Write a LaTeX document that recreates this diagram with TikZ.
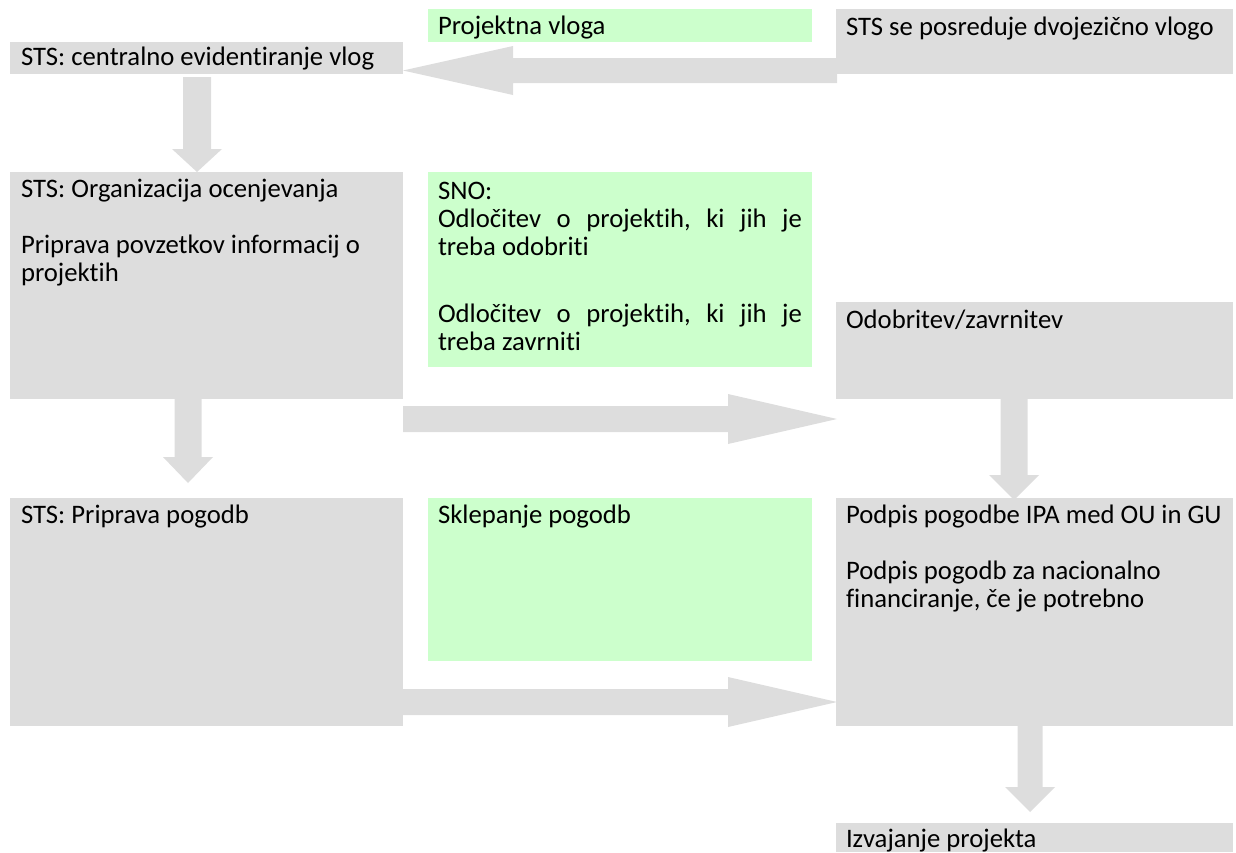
\documentclass[tikz,border=0pt]{standalone}
\usepackage{fontspec}
\setmainfont{Carlito}[Ligatures={NoCommon}]
\definecolor{boxgray}{HTML}{DDDDDD}
\definecolor{boxgreen}{HTML}{CCFFCC}
\newcommand{\lbfont}{\fontsize{26.7}{28}\selectfont}
\newcommand{\harr}[6]{%
  \fill[arrowfill] (#1,#4-#5) -- (#2,#4-#5) -- (#2,#4-#6) -- (#3,#4) -- (#2,#4+#6) -- (#2,#4+#5) -- (#1,#4+#5) -- cycle;}
\newcommand{\varr}[6]{%
  \fill[arrowfill] (#4-#5,#1) -- (#4-#5,#2) -- (#4-#6,#2) -- (#4,#3) -- (#4+#6,#2) -- (#4+#5,#2) -- (#4+#5,#1) -- cycle;}
\tikzset{
  graybox/.style={fill=boxgray, draw=none, anchor=north west, inner sep=0pt, outer sep=0pt},
  greenbox/.style={fill=boxgreen, draw=none, anchor=north west, inner sep=0pt, outer sep=0pt},
  lbl/.style={anchor=base west, inner sep=0pt, outer sep=0pt, font=\lbfont, text=black},
  arrowfill/.style={fill=boxgray, draw=none}
}
\begin{document}
\begin{tikzpicture}[x=1pt, y=-1pt]
\useasboundingbox (0,0) rectangle (1236,852);
% boxes
\node[greenbox, minimum width=384pt, minimum height=33pt] (proj) at (428,9) {};
\node[graybox, minimum width=397pt, minimum height=65pt] (sts) at (836,9) {};
\node[graybox, minimum width=393pt, minimum height=32pt] (cev) at (10,42) {};
\node[graybox, minimum width=393pt, minimum height=227pt] (org) at (10,172) {};
\node[greenbox, minimum width=384pt, minimum height=195pt] (sno) at (428,172) {};
\node[graybox, minimum width=397pt, minimum height=97pt] (odo) at (836,302) {};
\node[graybox, minimum width=393pt, minimum height=228pt] (pri) at (10,498) {};
\node[greenbox, minimum width=384pt, minimum height=163pt] (skl) at (428,498) {};
\node[graybox, minimum width=397pt, minimum height=228pt] (pod) at (836,498) {};
\node[graybox, minimum width=397pt, minimum height=29pt] (izv) at (836,823) {};
% block arrows
\harr{837}{513}{403}{70.5}{12.5}{24.5}
\harr{403}{728}{837}{419}{13}{25}
\harr{403}{728}{837}{702}{13}{25}
\varr{77}{149}{172}{197}{14}{25}
\varr{399}{457}{483}{188}{13.5}{25}
\varr{399}{475}{500}{1014}{13.5}{25}
\varr{726}{787}{812}{1030}{12.5}{25}
% texts
\node[lbl] (tproj) at (438,34) {Projektna vloga};
\node[lbl] (tsts) at (846,35) {STS se posreduje dvojezično vlogo};
\node[lbl] (tcev) at (21,65) {STS: centralno evidentiranje vlog};
\node[lbl] (torg1) at (21,197) {STS: Organizacija ocenjevanja};
\node[lbl] (torg2) at (21,253) {Priprava povzetkov informacij o};
\node[lbl] (torg3) at (21,281) {projektih};
\node[lbl] (tsno1) at (438,199) {SNO:};
\node[lbl] (tsno2) at (438,227) {\hbox to 364pt{Odločitev\hfill o\hfill projektih,\hfill ki\hfill jih\hfill je}};
\node[lbl] (tsno3) at (438,255) {treba odobriti};
\node[lbl] (tsno4) at (438,322) {\hbox to 364pt{Odločitev\hfill o\hfill projektih,\hfill ki\hfill jih\hfill je}};
\node[lbl] (tsno5) at (438,350) {treba zavrniti};
\node[lbl] (todo) at (846,328) {Odobritev/zavrnitev};
\node[lbl] (tpri) at (21,523) {STS: Priprava pogodb};
\node[lbl] (tskl) at (438,523) {Sklepanje pogodb};
\node[lbl] (tpod1) at (846,523) {Podpis pogodbe IPA med OU in GU};
\node[lbl] (tpod2) at (846,579) {Podpis pogodb za nacionalno};
\node[lbl] (tpod3) at (846,607) {financiranje, če je potrebno};
\node[lbl] (tizv) at (846,847) {Izvajanje projekta};
\end{tikzpicture}
\end{document}
